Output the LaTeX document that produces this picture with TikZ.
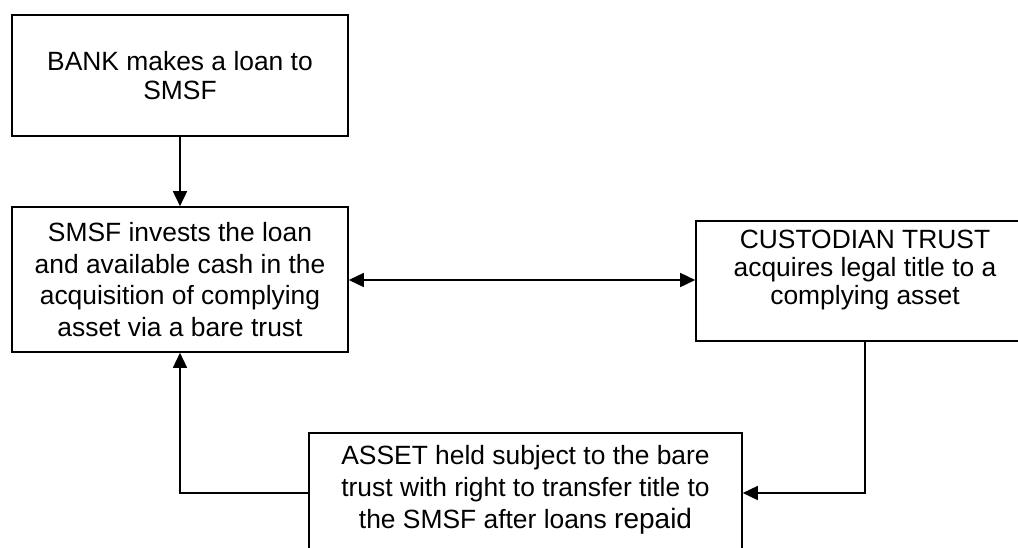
\documentclass[tikz,border=0pt]{standalone}
\usepackage{fontspec}
\setmainfont{Liberation Sans}
\usetikzlibrary{arrows.meta,calc}
\begin{document}
\begin{tikzpicture}[x=1pt,y=-1pt,
  box/.style={draw=black, line width=1.6pt, rectangle, inner sep=0pt},
  txt/.style={align=center, inner sep=0pt, font=\fontsize{26.4}{31}\selectfont},
  conn/.style={line width=1.6pt, -{Triangle[length=15pt,width=14pt]}},
  dconn/.style={line width=1.6pt, {Triangle[length=15pt,width=14pt]}-{Triangle[length=15pt,width=14pt]}}]
\useasboundingbox (0,0) rectangle (1018,547);
\clip (0,0) rectangle (1018,547);
\fill[white] (0,0) rectangle (1018,547);
% boxes
\node[box, minimum width=336pt, minimum height=121pt] (b1) at (180,75.5) {};
\node[box, minimum width=336pt, minimum height=145pt] (b2) at (180,279.5) {};
\node[box, minimum width=338pt, minimum height=120pt] (b3) at (865,281) {};
\node[box, minimum width=433pt, minimum height=120pt] (b4) at (525.5,493) {};
% texts
\node[txt, font=\fontsize{26.4}{29.5}\selectfont] (t1) at (b1.center) {BANK makes a loan to\\SMSF};
\node[txt, font=\fontsize{26.4}{31.5}\selectfont] (t2) at (b2.center) {SMSF invests the loan\\and available cash in the\\acquisition of complying\\asset via a bare trust};
\node[txt, font=\fontsize{26.4}{28}\selectfont] (t3) at ($(b3.center)+(0,-11)$) {CUSTODIAN TRUST\\acquires legal title to a\\complying asset};
\node[txt, font=\fontsize{26.4}{32}\selectfont] (t4) at ($(b4.center)+(0,-3)$) {ASSET held subject to the bare\\trust with right to transfer title to\\the SMSF after loans {\fontsize{28}{32}\selectfont repaid}};
% connectors
\draw[conn] (b1.south) -- (b2.north);
\draw[dconn] (b2.east |- 0,280) -- (b3.west |- 0,280);
\draw[conn] (b3.south) |- (b4.east);
\draw[conn] (b4.west) -| (b2.south);
\end{tikzpicture}
\end{document}
